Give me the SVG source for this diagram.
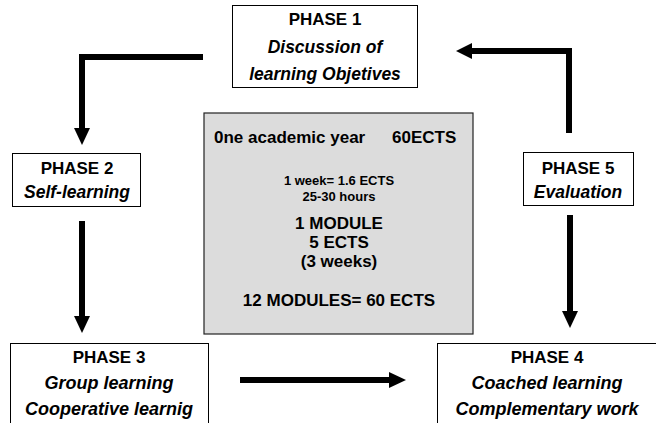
<svg xmlns="http://www.w3.org/2000/svg" width="656" height="423" viewBox="0 0 656 423">
<style>
text{font-family:"Liberation Sans",Arial,sans-serif;font-weight:bold;fill:#000;text-anchor:middle}
.t{font-size:17px}
.i{font-size:17.5px;font-style:italic}
.ib{font-size:18px;font-style:italic}
.s{font-size:13px}
.box{fill:#fff;stroke:#000;stroke-width:1}
.gray{fill:#dcdcdc;stroke:#222;stroke-width:1.2}
.ln{fill:none;stroke:#000;stroke-width:6}
.hd{fill:#000}
</style>
<rect width="656" height="423" fill="#fff"/>
<g id="center">
<rect class="gray" x="204" y="113" width="269" height="221"/>
<text class="t" x="214" y="143" style="text-anchor:start">0ne academic year</text>
<text class="t" x="392" y="143" style="text-anchor:start">60ECTS</text>
<text class="s" x="339" y="185">1 week= 1.6 ECTS</text>
<text class="s" x="339" y="201">25-30 hours</text>
<text class="t" x="339" y="229">1 MODULE</text>
<text class="t" x="339" y="248">5 ECTS</text>
<text class="t" x="339" y="267">(3 weeks)</text>
<text class="t" x="339" y="306">12 MODULES= 60 ECTS</text>
</g>
<g id="phase1">
<rect class="box" x="232.5" y="5.5" width="185" height="82"/>
<text class="t" x="325" y="25">PHASE 1</text>
<text class="i" x="325" y="53">Discussion of</text>
<text class="i" x="325" y="80">learning Objetives</text>
</g>
<g id="phase2">
<rect class="box" x="12.5" y="153.5" width="128" height="53"/>
<text class="t" x="77" y="174">PHASE 2</text>
<text class="i" x="77" y="198">Self-learning</text>
</g>
<g id="phase5">
<rect class="box" x="523.5" y="152.5" width="110" height="53"/>
<text class="t" x="578" y="174">PHASE 5</text>
<text class="i" x="578" y="198">Evaluation</text>
</g>
<g id="phase3">
<rect class="box" x="10.5" y="343.5" width="198" height="90"/>
<text class="t" x="109" y="363">PHASE 3</text>
<text class="ib" x="109" y="389">Group learning</text>
<text class="ib" x="109" y="415">Cooperative learnig</text>
</g>
<g id="phase4">
<rect class="box" x="437.5" y="343.5" width="230" height="90"/>
<text class="t" x="547" y="363">PHASE 4</text>
<text class="ib" x="547" y="389">Coached learning</text>
<text class="ib" x="547" y="415">Complementary work</text>
</g>
<g id="connectors">
<path class="ln" d="M203,57 H82 V129"/>
<polygon class="hd" points="74,128 90,128 82,145"/>
<path class="ln" d="M569,133 V51 H471"/>
<polygon class="hd" points="472,43 472,59 456,51"/>
<path class="ln" d="M82,221 V317"/>
<polygon class="hd" points="74,316 90,316 82,333"/>
<path class="ln" d="M570,215 V312"/>
<polygon class="hd" points="562,311 578,311 570,328"/>
<path class="ln" d="M240,380 H390"/>
<polygon class="hd" points="389,372 389,388 406,380"/>
</g>
</svg>
